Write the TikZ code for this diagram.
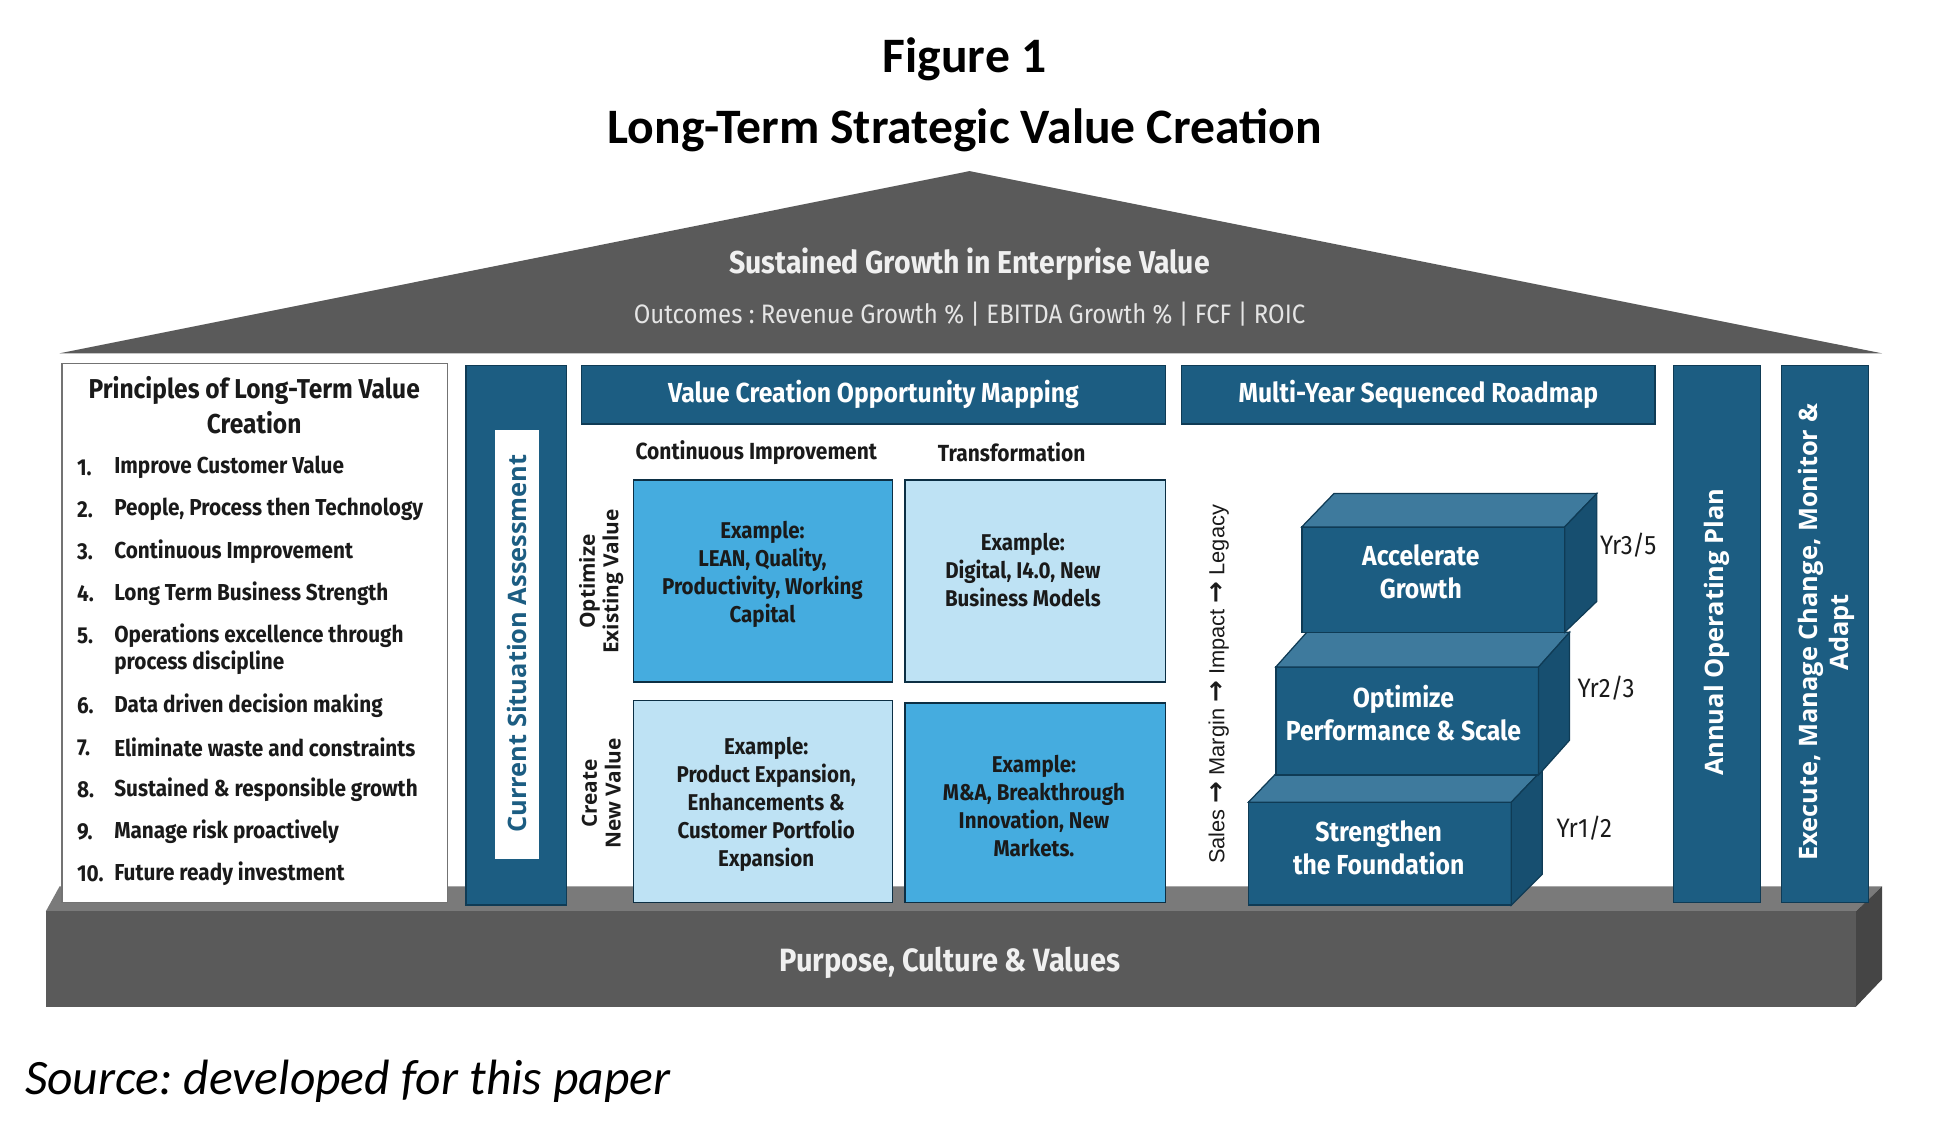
\documentclass[tikz,border=0pt]{standalone}
\usepackage{fontspec}
\setmainfont{Carlito}
\newfontfamily\condf[FakeStretch=0.9]{Fira Sans}
\newfontfamily\semif[FakeStretch=0.9]{Fira Sans}
\newfontfamily\widef{Open Sans}
\newfontfamily\arialf{Liberation Sans}
\newfontfamily\dejaf{DejaVu Sans}
\definecolor{roofgray}{HTML}{5A5A5A}
\definecolor{basetop}{HTML}{7A7A7A}
\definecolor{baseside}{HTML}{454545}
\definecolor{colblue}{HTML}{1C5D82}
\definecolor{edgeblue}{HTML}{0F3B55}
\definecolor{medblue}{HTML}{45ACDF}
\definecolor{lightblue}{HTML}{BEE2F4}
\definecolor{steptop}{HTML}{3E7A9D}
\definecolor{stepside}{HTML}{174F70}
\definecolor{txtdark}{HTML}{1A1A1A}
\tikzset{
  box/.style={draw=edgeblue, line width=1.2pt, inner sep=0pt, outer sep=0pt},
  colbox/.style={box, fill=colblue},
  medbox/.style={box, fill=medblue, draw=edgeblue!80!black},
  lightbox/.style={box, fill=lightblue, draw=edgeblue!80!black},
  quadtxt/.style={font=\semif\bfseries\fontsize{18.4}{22.6}\selectfont, text=txtdark, align=center},
  headtxt/.style={font=\condf\bfseries\fontsize{22.2}{25}\selectfont, text=white},
  steptxt/.style={font=\condf\bfseries\fontsize{22.2}{27}\selectfont, text=white, align=center},
  yrtxt/.style={font=\condf\fontsize{21.5}{24}\selectfont, text=txtdark, anchor=west},
  listnum/.style={font=\semif\bfseries\fontsize{18.6}{22}\selectfont, text=txtdark, anchor=west, inner sep=0pt},
  listtxt/.style={font=\semif\bfseries\fontsize{18.6}{22}\selectfont, text=txtdark, anchor=west, inner sep=0pt, align=left},
  vtxt/.style={font=\widef\bfseries\fontsize{20.5}{25}\selectfont, rotate=90, align=center},
  arr/.style={},
}
\newcommand{\parr}{{\dejaf\bfseries\fontsize{21}{20}\selectfont →}}
\begin{document}
\frenchspacing
\begin{tikzpicture}[x=1pt,y=-1pt]
\useasboundingbox (0,0) rectangle (1568,923);
% titles
\node[font=\bfseries\fontsize{40}{44}\selectfont] (fig) at (778,48) {Figure 1};
\node[font=\bfseries\fontsize{40}{44}\selectfont] (title) at (778,105) {Long-Term Strategic Value Creation};
% roof
\fill[roofgray] (48,285) -- (782,138) -- (1518,285) -- cycle;
\node[font=\condf\bfseries\fontsize{25.5}{28}\selectfont, text=white!94!black] (roof1) at (782,213) {Sustained Growth in Enterprise Value};
\node[font=\condf\fontsize{21.5}{24}\selectfont, text=white!90!black] (roof2) at (782,253) {Outcomes : Revenue Growth \% | EBITDA Growth \% | FCF | ROIC};
% base platform
\fill[basetop] (37,735) -- (48,715) -- (1518,715) -- (1497,735) -- cycle;
\fill[roofgray] (37,735) rectangle (1497,812);
\fill[baseside] (1497,735) -- (1518,715) -- (1518,790) -- (1497,812) -- cycle;
\node[font=\condf\bfseries\fontsize{26}{28}\selectfont, text=white!94!black] (base) at (766,777) {Purpose, Culture \& Values};
% principles box
\node[draw=black!55, line width=1pt, fill=white, minimum width=311, minimum height=435, inner sep=0pt] (princ) at (205.5,510.5) {};
\node[font=\semif\bfseries\fontsize{22}{28}\selectfont, text=txtdark, align=center] (ptitle) at (205,327) {Principles of Long-Term Value\\Creation};
\foreach \n/\y/\t in {1/377/Improve Customer Value,2/411/{People, Process then Technology},3/445/Continuous Improvement,4/479/Long Term Business Strength,6/569/Data driven decision making,7/603/Eliminate waste and constraints,8/637/Sustained \& responsible growth,9/671/Manage risk proactively,10/705/Future ready investment}{
  \node[listnum] (pn\n) at (62,\y) {\n.};
  \node[listtxt] (pt\n) at (92,\y) {\t};
}
\node[listnum] (pn5) at (62,513) {5.};
\node[listtxt, anchor=north west] (pt5) at (92,503) {Operations excellence through\\process discipline};
% current situation assessment
\node[colbox, minimum width=81, minimum height=435] (csa) at (416.5,512.5) {};
\node[fill=white, minimum width=36, minimum height=346, inner sep=0pt] (csain) at (417,520) {};
\node[vtxt, text=colblue] (csatxt) at (417,519) {Current Situation Assessment};
% headers
\node[colbox, minimum width=471, minimum height=47] (vcom) at (704.5,318.5) {};
\node[headtxt] (vcomt) at (704.5,318.5) {Value Creation Opportunity Mapping};
\node[colbox, minimum width=382, minimum height=47] (mysr) at (1144,318.5) {};
\node[headtxt] (mysrt) at (1144,318.5) {Multi-Year Sequenced Roadmap};
% column headers
\node[font=\semif\bfseries\fontsize{18.8}{21}\selectfont, text=txtdark] (ci) at (610,365) {Continuous Improvement};
\node[font=\semif\bfseries\fontsize{18.8}{21}\selectfont, text=txtdark] (tr) at (816,365) {Transformation};
% row labels
\node[font=\widef\bfseries\fontsize{16.8}{19}\selectfont, rotate=90, align=center, text=txtdark] (rowa) at (485,469) {Optimize\\Existing Value};
\node[font=\widef\bfseries\fontsize{16.8}{19}\selectfont, rotate=90, align=center, text=txtdark] (rowb) at (485,640) {Create\\New Value};
% quadrants
\node[medbox, minimum width=209, minimum height=163] (q1) at (615.5,468.5) {};
\node[quadtxt] (q1t) at (615,463) {Example:\\LEAN, Quality,\\Productivity, Working\\Capital};
\node[lightbox, minimum width=210, minimum height=163] (q2) at (835,468.5) {};
\node[quadtxt] (q2t) at (825,460) {Example:\\Digital, I4.0, New\\Business Models};
\node[lightbox, minimum width=209, minimum height=163] (q3) at (615.5,646.5) {};
\node[quadtxt] (q3t) at (618,649) {Example:\\Product Expansion,\\Enhancements \&\\Customer Portfolio\\Expansion};
\node[medbox, minimum width=210, minimum height=161] (q4) at (835,647.5) {};
\node[quadtxt] (q4t) at (834,650) {Example:\\M\&A, Breakthrough\\Innovation, New\\Markets.};
% vertical progression text
\node[font=\arialf\fontsize{17.6}{20}\selectfont, rotate=90, text=txtdark] (prog) at (983,552) {Sales \parr{} Margin \parr{} Impact \parr{} Legacy};
% steps: bottom
\node[box, fill=colblue, minimum width=212, minimum height=83] (s1) at (1113,688.5) {};
\filldraw[steptop, draw=edgeblue, line width=1pt] (s1.north west) -- ++(25,-26) -- ++(212,0) -- (s1.north east) -- cycle;
\filldraw[stepside, draw=edgeblue, line width=1pt] (s1.north east) -- ++(25,-26) -- ++(0,84) -- (s1.south east) -- cycle;
\node[steptxt] (s1t) at (1112,684) {Strengthen\\the Foundation};
\node[yrtxt] (y1) at (1252,668) {Yr1/2};
% middle
\node[box, fill=colblue, minimum width=212, minimum height=87] (s2) at (1135,581.5) {};
\filldraw[steptop, draw=edgeblue, line width=1pt] (s2.north west) -- ++(25,-28) -- ++(212,0) -- (s2.north east) -- cycle;
\filldraw[stepside, draw=edgeblue, line width=1pt] (s2.north east) -- ++(25,-28) -- ++(0,87) -- (s2.south east) -- cycle;
\node[steptxt] (s2t) at (1132,575) {Optimize\\Performance \& Scale};
\node[yrtxt] (y2) at (1269,555) {Yr2/3};
% top
\node[box, fill=colblue, minimum width=212, minimum height=85] (s3) at (1156,467.5) {};
\filldraw[steptop, draw=edgeblue, line width=1pt] (s3.north west) -- ++(26,-27) -- ++(212,0) -- (s3.north east) -- cycle;
\filldraw[stepside, draw=edgeblue, line width=1pt] (s3.north east) -- ++(26,-27) -- ++(0,87) -- (s3.south east) -- cycle;
\node[steptxt] (s3t) at (1146,461) {Accelerate\\Growth};
\node[yrtxt] (y3) at (1287,440) {Yr3/5};
% right columns
\node[colbox, minimum width=70, minimum height=433] (aop) at (1385,511.5) {};
\node[vtxt, text=white] (aopt) at (1385,510) {Annual Operating Plan};
\node[colbox, minimum width=70, minimum height=433] (exe) at (1472,511.5) {};
\node[vtxt, text=white] (exet) at (1473,510) {Execute, Manage Change, Monitor \&\\Adapt};
% source
\node[font=\itshape\fontsize{40}{44}\selectfont, anchor=west, inner sep=0pt] (src) at (20,872) {Source: developed for this paper};
\end{tikzpicture}
\end{document}
